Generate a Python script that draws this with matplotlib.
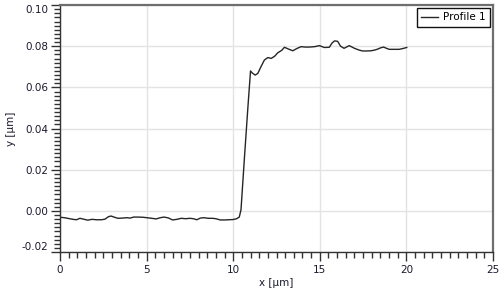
import matplotlib
matplotlib.use("Agg")
import matplotlib.pyplot as plt
from matplotlib.ticker import MultipleLocator

# profile
x_um = [0.0, 0.25, 0.5, 0.75, 0.95, 1.15, 1.35, 1.6, 1.85, 2.1, 2.4, 2.6, 2.8, 2.95,
        3.15, 3.35, 3.6, 3.85, 4.05, 4.25, 4.5, 4.8, 5.0, 5.3, 5.55, 5.8, 6.0, 6.25,
        6.5, 6.75, 7.0, 7.25, 7.5, 7.7, 7.9, 8.1, 8.3, 8.55, 8.8, 9.0, 9.25, 9.5,
        9.75, 10.0, 10.2, 10.35, 10.45, 10.65, 10.85, 11.0, 11.1, 11.27, 11.42,
        11.6, 11.8, 12.0, 12.2, 12.4, 12.57, 12.8, 12.96, 13.2, 13.44, 13.7, 13.92,
        14.15, 14.4, 14.7, 14.98, 15.26, 15.55, 15.7, 15.85, 16.03, 16.2, 16.4,
        16.7, 17.0, 17.25, 17.47, 17.7, 17.95, 18.15, 18.34, 18.5, 18.68, 18.85,
        19.0, 19.3, 19.58, 19.8, 20.02]
y_um = [-0.0031, -0.0033, -0.0037, -0.0041, -0.0043, -0.0036, -0.0040, -0.0045,
        -0.0041, -0.0043, -0.0043, -0.0040, -0.0028, -0.0025, -0.0031, -0.0036,
        -0.0035, -0.0033, -0.0035, -0.0030, -0.0030, -0.0031, -0.0033, -0.0036,
        -0.0039, -0.0033, -0.0030, -0.0034, -0.0044, -0.0041, -0.0036, -0.0038,
        -0.0036, -0.0038, -0.0043, -0.0035, -0.0033, -0.0036, -0.0036, -0.0038,
        -0.0044, -0.0044, -0.0043, -0.0042, -0.0038, -0.0030, 0.0005, 0.0260,
        0.0505, 0.0680, 0.0670, 0.0660, 0.0668, 0.0700, 0.0733, 0.0745, 0.0741,
        0.0752, 0.0768, 0.0780, 0.0795, 0.0786, 0.0778, 0.0790, 0.0798, 0.0796,
        0.0796, 0.0798, 0.0803, 0.0794, 0.0795, 0.0815, 0.0826, 0.0824, 0.0800,
        0.0790, 0.0803, 0.0790, 0.0782, 0.0777, 0.0777, 0.0778, 0.0781, 0.0786,
        0.0792, 0.0796, 0.0790, 0.0785, 0.0785, 0.0785, 0.0789, 0.0794]

x_ticks = [0, 5, 10, 15, 20, 25]
y_ticks = [-0.02, 0.00, 0.02, 0.04, 0.06, 0.08, 0.10]

plt.rcParams["font.family"] = ["DejaVu Sans"]
plt.rcParams["font.size"] = 7.5

fig = plt.figure(figsize=(5.0, 2.99), dpi=100)
ax = fig.add_axes([0.12, 0.157, 0.866, 0.826])

ax.plot(x_um, y_um, color="#262626", linewidth=1.0, label="Profile 1")

ax.set_xlim(0, 25)
ax.set_ylim(-0.02, 0.10)
ax.set_xticks(x_ticks)
ax.set_yticks(y_ticks)
ax.set_yticklabels([f"{v:.2f}" for v in y_ticks])
ax.xaxis.set_minor_locator(MultipleLocator(0.5))
ax.yaxis.set_minor_locator(MultipleLocator(0.002))

# end labels sit inside the axis range, like the original
labels = ax.get_yticklabels()
labels[0].set_verticalalignment("bottom")
labels[-1].set_verticalalignment("top")

ax.grid(True, which="major", color="#e3e3e3", linewidth=1.0)
ax.set_axisbelow(True)

ax.tick_params(which="major", direction="out", length=6.5, width=1.0,
               color="#333333", labelcolor="#1a1a2e", pad=2)
ax.tick_params(which="minor", direction="out", length=4.3, width=1.0,
               color="#333333")
ax.tick_params(axis="x", pad=3)

for side in ["left", "bottom"]:
    ax.spines[side].set_color("#333333")
    ax.spines[side].set_linewidth(1.0)
for side in ["top", "right"]:
    ax.spines[side].set_color("#6e6e6e")
    ax.spines[side].set_linewidth(1.6)

ax.set_xlabel("x [µm]", color="#1a1a2e", labelpad=2)
ax.set_ylabel("y [µm]", color="#1a1a2e", labelpad=4)

leg = ax.legend(loc="upper right", fancybox=False, frameon=True,
                edgecolor="#111111", framealpha=1, handlelength=1.6,
                handletextpad=0.5, borderpad=0.4, borderaxespad=0.3)
leg.get_frame().set_linewidth(1.0)

fig.savefig("out.png", dpi=100)
